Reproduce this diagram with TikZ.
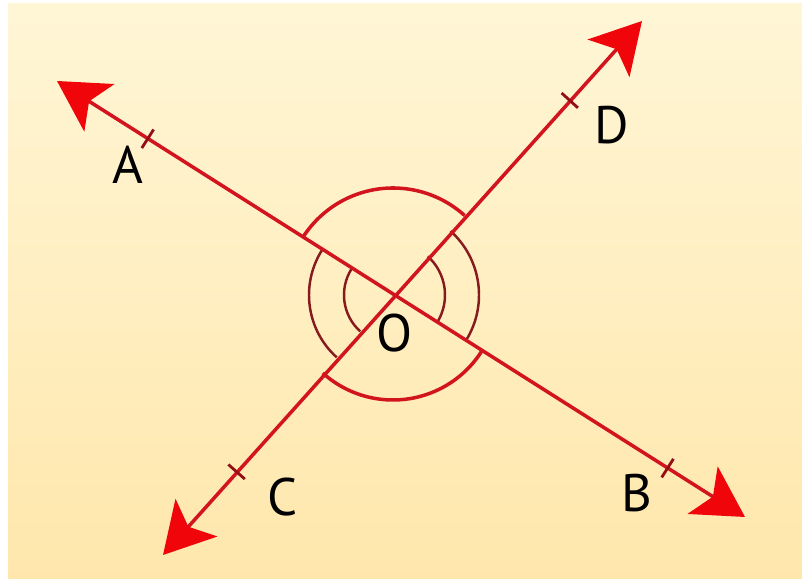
\documentclass[tikz,border=0pt]{standalone}
\usepackage{fontspec}
\setmainfont{PT Sans}
\usetikzlibrary{arrows.meta,calc}

\definecolor{linered}{RGB}{210,20,30}
\definecolor{tipred}{RGB}{240,6,10}
\definecolor{arcdark}{RGB}{135,26,30}
\definecolor{papertop}{RGB}{255,246,214}
\definecolor{paperbot}{RGB}{255,231,172}

\tikzset{
  ray/.style={draw=linered, line width=1pt,
    {Stealth[length=5mm,width=5.6mm,inset=1.2mm,color=tipred]}-{Stealth[length=5mm,width=5.6mm,inset=1.2mm,color=tipred]}},
  bigarc/.style={draw=linered, line width=1pt},
  dblarc/.style={draw=arcdark, line width=0.7pt},
  tickmark/.style={draw=linered!70!black, line width=0.8pt},
  ptlabel/.style={font=\fontsize{15}{18}\selectfont, text=black, inner sep=0pt}
}

\begin{document}
\begin{tikzpicture}
\useasboundingbox (0,0) rectangle (8.02,-5.84);
\fill[white] (0,0) rectangle (8.02,-5.84);
\shade[top color=papertop, bottom color=paperbot] (0.08,-0.04) rectangle (8.02,-5.79);

\coordinate (O) at (3.93,-2.95);
\coordinate (A) at (0.57,-0.81);
\coordinate (B) at (7.45,-5.17);
\coordinate (C) at (1.63,-5.55);
\coordinate (D) at (6.42,-0.21);

\draw[bigarc] (O) ++(48:1.07) arc[start angle=48, end angle=147.6, radius=1.07];
\draw[bigarc] (O) ++(228:1.05) arc[start angle=228, end angle=328, radius=1.05];
\draw[dblarc] (O) ++(147.6:0.84) arc[start angle=147.6, end angle=228, radius=0.84];
\draw[dblarc] (O) ++(147.6:0.49) arc[start angle=147.6, end angle=228, radius=0.49];
\draw[dblarc] (O) ++(-32:0.86) arc[start angle=-32, end angle=48, radius=0.86];
\draw[dblarc] (O) ++(-32:0.52) arc[start angle=-32, end angle=48, radius=0.52];

\draw[ray] (A) -- (B);
\draw[ray] (C) -- (D);

\foreach \p/\f in {A/0.73, D/0.71, C/0.68, B/0.78}
  \draw[tickmark] ($($(O)!\f!(\p)$)!0.11cm!90:(\p)$) -- ($($(O)!\f!(\p)$)!0.11cm!-90:(\p)$);

\node[ptlabel] (lA) at (1.28,-1.65) {A};
\node[ptlabel] (lD) at (6.12,-1.25) {D};
\node[ptlabel] (lC) at (2.83,-4.97) {C};
\node[ptlabel] (lB) at (6.37,-4.93) {B};
\node[ptlabel] (lO) at (3.95,-3.33) {O};
\end{tikzpicture}
\end{document}
